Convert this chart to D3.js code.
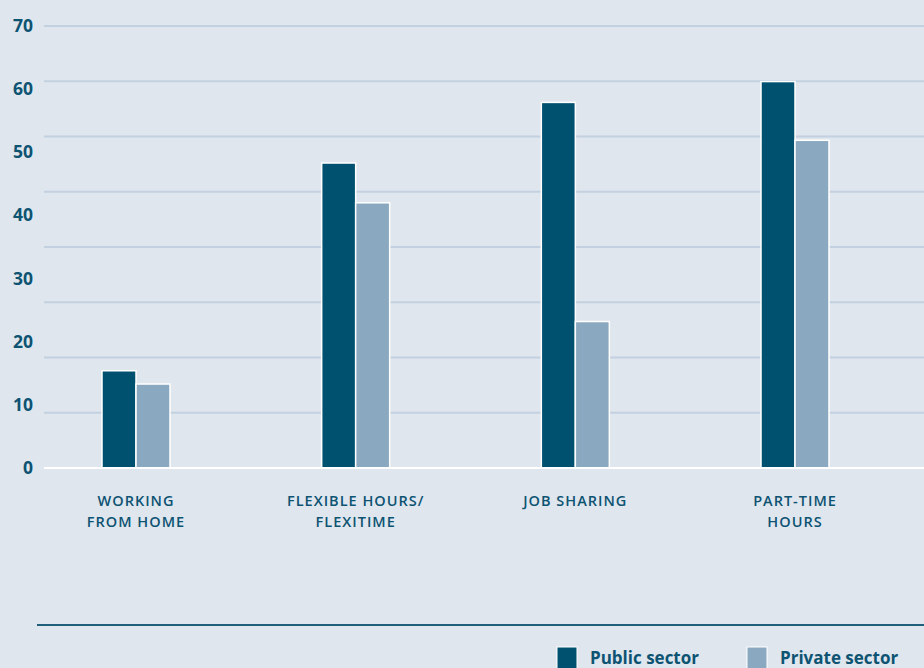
<!DOCTYPE html>
<html>
<head>
<meta charset="utf-8">
<script src="https://cdn.jsdelivr.net/npm/d3@7"></script>
<style>
  body { margin: 0; background: #dfe6ee; }
  svg { display: block; font-family: "Open Sans", "Noto Sans", sans-serif; }
</style>
</head>
<body>
<div id="chart"></div>
<script>
// data
var categories = ["WORKING|FROM HOME", "FLEXIBLE HOURS/|FLEXITIME", "JOB SHARING", "PART-TIME|HOURS"];
var publicSector = [15.4, 48.3, 57.9, 61.2];
var privateSector = [13.3, 42.0, 23.2, 51.9];
var yTicks = [0, 10, 20, 30, 40, 50, 60, 70];
var seriesNames = ["Public sector", "Private sector"];

var width = 924, height = 668;
var textColor = "#0d5372";
var colors = ["#00516f", "#8aa8bf"];

var svg = d3.select("#chart").append("svg")
    .attr("width", width)
    .attr("height", height);

svg.append("rect")
    .attr("width", width).attr("height", height)
    .attr("fill", "#dfe6ee");

var y = d3.scaleLinear().domain([0, 70]).range([468, 26]);
var x = d3.scalePoint().domain(categories).range([136, 795]);
var barW = 34;

// gridlines: 8 even steps between 0 and 70
var gridVals = d3.range(9).map(function(i){ return i * 70 / 8; });
svg.selectAll(".grid")
    .data(gridVals.slice(1))
    .enter().append("line")
    .attr("x1", 44).attr("x2", width)
    .attr("y1", function(d){ return y(d); })
    .attr("y2", function(d){ return y(d); })
    .attr("stroke", "#c2d0df")
    .attr("stroke-width", 2);

// y labels
svg.selectAll(".ylab")
    .data(yTicks)
    .enter().append("text")
    .attr("x", 33)
    .attr("y", function(d){ return y(d) + 6; })
    .attr("text-anchor", "end")
    .attr("font-size", 17.5)
    .attr("font-weight", "bold")
    .attr("fill", textColor)
    .text(function(d){ return d; });

// bars
var series = [publicSector, privateSector];
series.forEach(function(vals, s){
    svg.selectAll(".bar" + s)
        .data(vals)
        .enter().append("rect")
        .attr("x", function(d, i){ return x(categories[i]) + (s === 0 ? -barW : 0); })
        .attr("y", function(d){ return y(d); })
        .attr("width", barW)
        .attr("height", function(d){ return y(0) - y(d); })
        .attr("fill", colors[s])
        .attr("stroke", "#ffffff")
        .attr("stroke-width", 1.5);
});

// baseline
svg.append("line")
    .attr("x1", 44).attr("x2", width)
    .attr("y1", y(0)).attr("y2", y(0))
    .attr("stroke", "#ffffff")
    .attr("stroke-width", 2);

// category labels
categories.forEach(function(c){
    var lines = c.split("|");
    var t = svg.append("text")
        .attr("text-anchor", "middle")
        .attr("font-size", 14.5)
        .attr("font-weight", 600)
        .attr("letter-spacing", 1)
        .attr("fill", textColor);
    lines.forEach(function(l, k){
        t.append("tspan")
            .attr("x", x(c))
            .attr("y", 506 + k * 21)
            .text(l);
    });
});

// bottom rule
svg.append("line")
    .attr("x1", 37).attr("x2", width)
    .attr("y1", 625).attr("y2", 625)
    .attr("stroke", "#1f5f7c")
    .attr("stroke-width", 2);

// legend
var legX = [557, 747];
seriesNames.forEach(function(n, i){
    svg.append("rect")
        .attr("x", legX[i]).attr("y", 647)
        .attr("width", 20).attr("height", 22)
        .attr("fill", colors[i])
        .attr("stroke", "#ffffff")
        .attr("stroke-width", 1);
    svg.append("text")
        .attr("x", legX[i] + 33)
        .attr("y", 664)
        .attr("font-size", 17)
        .attr("font-weight", "bold")
        .attr("fill", textColor)
        .text(n);
});
</script>
</body>
</html>
